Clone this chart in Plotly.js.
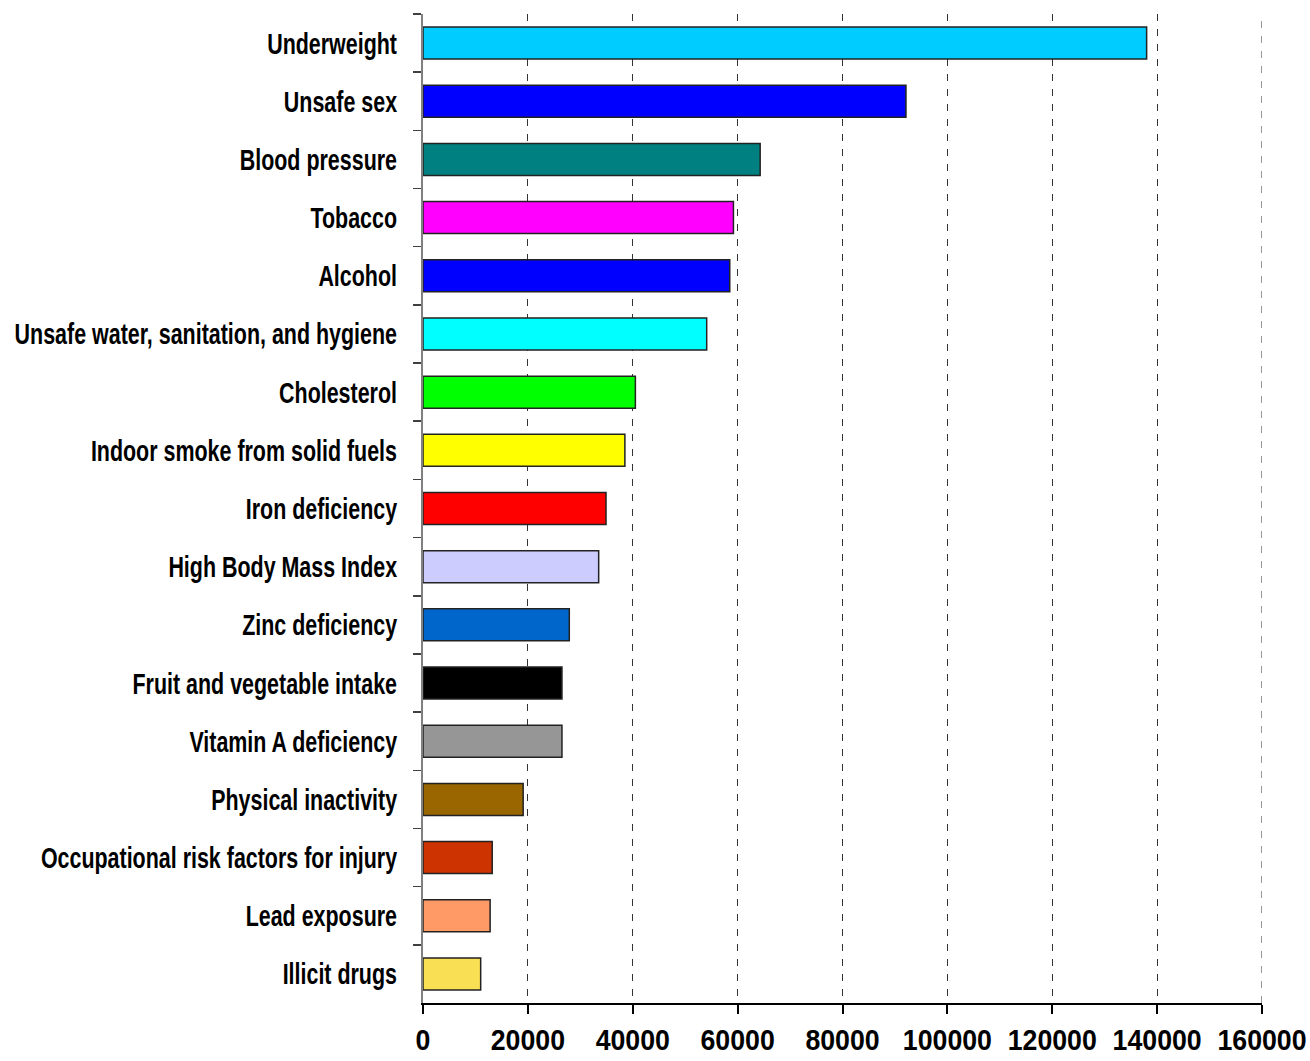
<!DOCTYPE html>
<html>
<head>
<meta charset="utf-8">
<script src="https://cdn.plot.ly/plotly-3.0.1.min.js"></script>
<style>html,body{margin:0;padding:0;background:#fff;}#chart{width:1310px;height:1061px;}</style>
</head>
<body>
<div id="chart"></div>
<script>
const categories = [
  "Underweight",
  "Unsafe sex",
  "Blood pressure",
  "Tobacco",
  "Alcohol",
  "Unsafe water, sanitation, and hygiene",
  "Cholesterol",
  "Indoor smoke from solid fuels",
  "Iron deficiency",
  "High Body Mass Index",
  "Zinc deficiency",
  "Fruit and vegetable intake",
  "Vitamin A deficiency",
  "Physical inactivity",
  "Occupational risk factors for injury",
  "Lead exposure",
  "Illicit drugs"
];
const dalys = [138000, 92100, 64300, 59200, 58500, 54100, 40500, 38500, 34900, 33500, 27900, 26500, 26500, 19100, 13200, 12800, 11000];
const barColors = ["#00CCFF","#0000FF","#008080","#FF00FF","#0000FF","#00FFFF","#00FF00","#FFFF00","#FF0000","#CCCCFF","#0066CC","#000000","#969696","#996600","#CC3300","#FF9966","#F9DF53"];
const xTicks = [0, 20000, 40000, 60000, 80000, 100000, 120000, 140000, 160000];
const xMax = 160000;

const trace = {
  type: "bar",
  orientation: "h",
  x: dalys,
  y: categories,
  marker: {color: barColors, line: {color: "#222222", width: 1.5}},
  width: 0.55,
  hoverinfo: "x+y"
};

const layout = {
  width: 1310,
  height: 1061,
  margin: {l: 423, r: 48, t: 14, b: 58},
  paper_bgcolor: "#ffffff",
  plot_bgcolor: "#ffffff",
  showlegend: false,
  bargap: 0.45,
  xaxis: {
    range: [0, xMax],
    tickvals: xTicks,
    ticktext: xTicks.map(String),
    showline: true,
    linecolor: "#000000",
    linewidth: 2,
    ticks: "outside",
    ticklen: 9,
    tickwidth: 2,
    tickcolor: "#000000",
    ticklabelstandoff: 0,
    ticklabeloverflow: "allow",
    showgrid: true,
    gridcolor: "#333333",
    gridwidth: 1,
    griddash: "7px,8px",
    zeroline: false,
    tickfont: {family: "Liberation Sans, Arial, sans-serif", size: 30, color: "#000000", weight: "bold"},
    fixedrange: true
  },
  yaxis: {
    type: "category",
    autorange: "reversed",
    showline: true,
    linecolor: "#808080",
    linewidth: 2,
    ticks: "outside",
    tickson: "boundaries",
    ticklen: 8,
    tickwidth: 1.5,
    tickcolor: "#404040",
    ticklabelstandoff: 18,
    showgrid: false,
    zeroline: false,
    tickfont: {family: "Liberation Sans, Arial, sans-serif", size: 30, color: "#000000", weight: "bold"},
    fixedrange: true
  },
  shapes: [{
    type: "line", xref: "x", yref: "paper",
    x0: xMax, x1: xMax, y0: 0, y1: 1,
    line: {color: "#333333", width: 1, dash: "7px,8px"},
    layer: "below"
  }]
};

function condense(selector, sx, anchor) {
  document.querySelectorAll(selector).forEach(function (t) {
    const b = t.getBBox();
    const ax = anchor === "end" ? b.x + b.width : b.x + b.width / 2;
    const cy = b.y + b.height / 2;
    const prev = t.getAttribute("transform") || "";
    t.setAttribute("transform", prev + " translate(" + ax + "," + cy + ") scale(" + sx + ",1) translate(" + (-ax) + "," + (-cy) + ")");
  });
}

Plotly.newPlot("chart", [trace], layout, {displayModeBar: false, staticPlot: true}).then(function () {
  condense(".ytick text", 0.715, "end");
  condense(".xtick text", 0.89, "middle");
});
</script>
</body>
</html>
